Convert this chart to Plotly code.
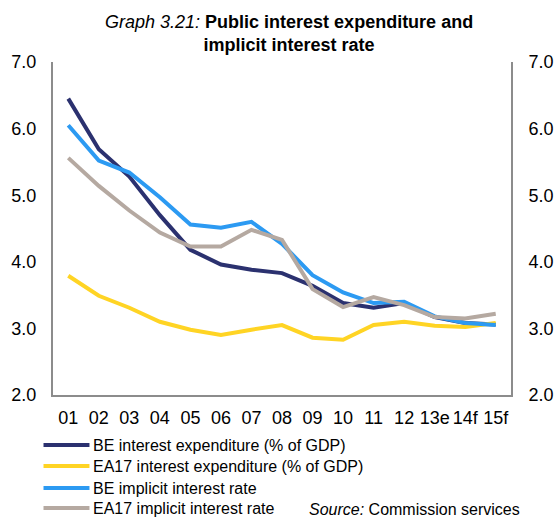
import plotly.graph_objects as go

years = ["01", "02", "03", "04", "05", "06", "07", "08", "09", "10", "11", "12", "13e", "14f", "15f"]

be_interest_exp = [6.45, 5.69, 5.28, 4.70, 4.18, 3.96, 3.88, 3.83, 3.64, 3.38, 3.31, 3.38, 3.17, 3.08, 3.06]
ea17_interest_exp = [3.79, 3.49, 3.31, 3.10, 2.98, 2.90, 2.98, 3.05, 2.86, 2.83, 3.05, 3.10, 3.04, 3.02, 3.08]
be_implicit_rate = [6.05, 5.52, 5.34, 4.97, 4.56, 4.51, 4.60, 4.27, 3.80, 3.54, 3.38, 3.40, 3.18, 3.08, 3.05]
ea17_implicit_rate = [5.56, 5.14, 4.77, 4.44, 4.23, 4.23, 4.48, 4.33, 3.59, 3.32, 3.47, 3.35, 3.17, 3.15, 3.22]

series_names = [
    "BE interest expenditure (% of GDP)",
    "EA17 interest expenditure (% of GDP)",
    "BE implicit interest rate",
    "EA17 implicit interest rate",
]
series_values = [be_interest_exp, ea17_interest_exp, be_implicit_rate, ea17_implicit_rate]
series_colors = ["#2B316F", "#FFD424", "#2C9AF2", "#B5A9A1"]

FONT = "Liberation Sans, Arial, sans-serif"
W, H = 554, 518
L, R, T, B = 52.5, 511, 62, 395   # plot area edges in pixels


def px_x(x):
    return (x - L) / (R - L)


def px_y(y):
    return (B - y) / (B - T)


fig = go.Figure()
for name, vals, col in zip(series_names, series_values, series_colors):
    fig.add_trace(go.Scatter(x=years, y=vals, name=name, mode="lines",
                             line=dict(color=col, width=4), showlegend=False))

# invisible trace so the right-hand axis is drawn
fig.add_trace(go.Scatter(x=years, y=be_interest_exp, yaxis="y2", mode="lines",
                         line=dict(width=0), opacity=0, showlegend=False, hoverinfo="skip"))

axis_common = dict(range=[2, 7], dtick=1, tickformat=".1f", showgrid=False,
                   zeroline=False, showline=True, linecolor="#8C8C8C", linewidth=2,
                   ticks="", automargin=False,
                   tickfont=dict(size=18, color="#000000", family=FONT))

fig.update_layout(
    width=W, height=H,
    margin=dict(l=L, r=W - R, t=T, b=H - B, autoexpand=False),
    paper_bgcolor="white", plot_bgcolor="white",
    font=dict(family=FONT, color="#000000"),
    xaxis=dict(range=[-0.5, 14.5], showgrid=False, zeroline=False, showline=True,
               linecolor="#8C8C8C", linewidth=2, ticks="", ticklabelstandoff=5,
               automargin=False,
               tickfont=dict(size=18, color="#000000", family=FONT)),
    yaxis=dict(**axis_common, ticklabelstandoff=11),
    yaxis2=dict(**axis_common, overlaying="y", side="right", ticklabelstandoff=12),
    showlegend=False,
)

# title
fig.add_annotation(
    text="<i>Graph 3.21:</i> <b>Public interest expenditure and</b><br><b>implicit interest rate</b>",
    xref="paper", yref="paper", x=px_x(289), y=px_y(10), xanchor="center", yanchor="top",
    showarrow=False, align="center", font=dict(size=18, family=FONT, color="#000000"))

# legend: line sample + label for each series
row_y = [445, 466, 488, 508]
for name, col, yy in zip(series_names, series_colors, row_y):
    fig.add_shape(type="line", xref="paper", yref="paper",
                  x0=px_x(43), x1=px_x(89), y0=px_y(yy), y1=px_y(yy),
                  line=dict(color=col, width=4))
    fig.add_annotation(text=name, xref="paper", yref="paper", x=px_x(91), y=px_y(yy),
                       xanchor="left", yanchor="middle", showarrow=False,
                       font=dict(size=16, family=FONT, color="#000000"))

fig.add_annotation(text="<i>Source:</i> Commission services", xref="paper", yref="paper",
                   x=px_x(522), y=px_y(509), xanchor="right", yanchor="middle", showarrow=False,
                   font=dict(size=16, family=FONT, color="#000000"))

fig.write_html("out.html")
